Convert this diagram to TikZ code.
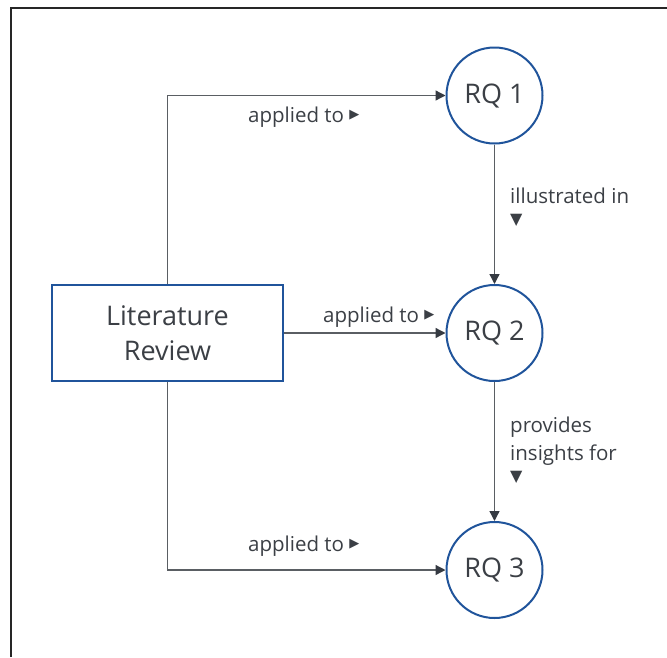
\documentclass[tikz,border=0pt]{standalone}
\usepackage{fontspec}
\setmainfont{Open Sans}
\newfontfamily\symfont{DejaVu Sans}
\usetikzlibrary{arrows.meta}
\definecolor{ink}{HTML}{3B3F45}
\definecolor{rqblue}{HTML}{20549B}
\definecolor{wire}{HTML}{5A5E63}
\definecolor{tipc}{HTML}{353A42}
% small marker glyphs that point along each relation
\newcommand{\rtri}{\raisebox{3.5pt}{\symfont\fontsize{13}{13}\selectfont ▶}}
\newcommand{\dtri}{\raisebox{7pt}{\symfont\fontsize{16}{16}\selectfont ▼}}
\begin{document}
\begin{tikzpicture}[x=1pt,y=-1pt,
  rq/.style={circle, draw=rqblue, line width=2pt, minimum size=96pt, inner sep=0pt,
    text=ink, font=\fontsize{27}{35}\selectfont},
  litbox/.style={rectangle, draw=rqblue, line width=2pt, minimum width=231pt,
    minimum height=96pt, inner sep=0pt, align=center, text=ink,
    font=\fontsize{27}{35}\selectfont},
  link/.style={draw=wire, line width=1.3pt,
    -{Triangle[length=10pt,width=10pt,fill=tipc,color=tipc]}},
  lbl/.style={text=ink, font=\fontsize{20.5}{28}\selectfont, inner sep=0pt, align=left}
]
\useasboundingbox (0,0) rectangle (667,657);
% frame
\draw[line width=1.4pt, color=black!85] (11,657) -- (11,8) -- (667,8);

% nodes
\node[litbox] (lit) at (167.5,333) {Literature\\Review};
\node[rq] (rq1) at (494.5,95.5) {RQ 1};
\node[rq] (rq2) at (494.5,333) {RQ 2};
\node[rq] (rq3) at (494.5,570) {RQ 3};

% relations
\draw[link] (lit.north) |- (rq1.west);
\draw[link] (lit.east) -- (rq2.west);
\draw[link] (lit.south) |- (rq3.west);
\draw[link] (rq1.south) -- (rq2.north);
\draw[link] (rq2.south) -- (rq3.north);

% relation labels (base anchor sits on the last line)
\node[lbl, anchor=base west] (l1) at (248,122) {applied to \rtri};
\node[lbl, anchor=base west] (l2) at (323,322) {applied to \rtri};
\node[lbl, anchor=base west] (l3) at (248,551) {applied to \rtri};
\node[lbl, anchor=base west] (l4) at (510,231) {illustrated in\\\dtri};
\node[lbl, anchor=base west] (l5) at (510,488) {provides\\insights for\\\dtri};
\end{tikzpicture}
\end{document}
